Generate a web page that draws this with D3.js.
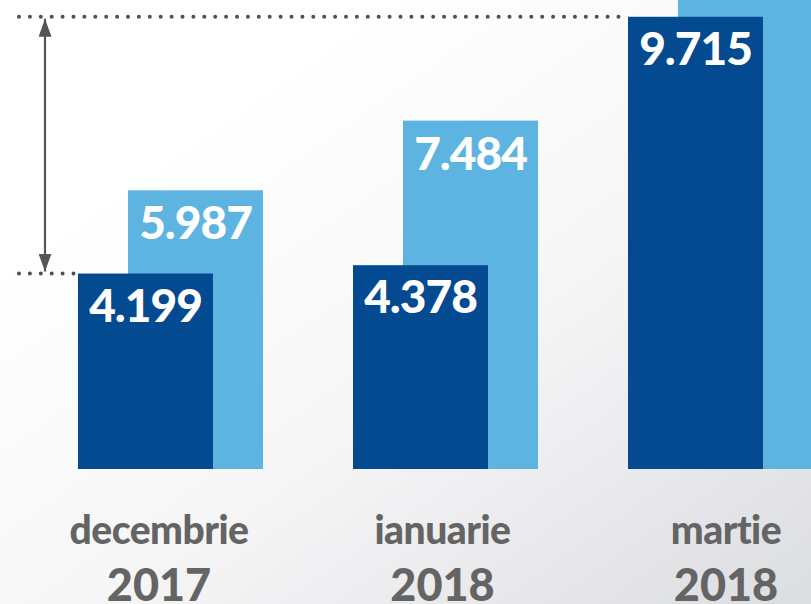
<!DOCTYPE html>
<html>
<head>
<meta charset="utf-8">
<script src="https://cdn.jsdelivr.net/npm/d3@7"></script>
<style>
  html, body { margin: 0; padding: 0; overflow: hidden; }
  #chart { width: 811px; height: 604px; }
</style>
</head>
<body>
<div id="chart"></div>
<script>
// data
var categories = ["dec2017", "ian2018", "mar2018"];
var months = ["decembrie", "ianuarie", "martie"];
var years = ["2017", "2018", "2018"];
var darkValues = [4.199, 4.378, 9.715];
var lightValues = [5.987, 7.484, 11.6]; // last one is cut off at the top
var darkLabels = ["4.199", "4.378", "9.715"];
var lightLabels = ["5.987", "7.484", ""];

var width = 811,
	height = 604;

var svg = d3.select("#chart").append("svg")
	.attr("width", width)
	.attr("height", height);

// background gradient
var defs = svg.append("defs");
var grad = defs.append("linearGradient")
	.attr("id", "bg")
	.attr("x1", "0.25").attr("y1", "0.2")
	.attr("x2", "1").attr("y2", "1");
grad.append("stop").attr("offset", "0").attr("stop-color", "#ffffff");
grad.append("stop").attr("offset", "0.45").attr("stop-color", "#f6f6f7");
grad.append("stop").attr("offset", "1").attr("stop-color", "#dcdde1");

// arrow head
defs.append("marker")
	.attr("id", "head")
	.attr("viewBox", "0 0 18 13")
	.attr("refX", 18).attr("refY", 6.5)
	.attr("markerUnits", "userSpaceOnUse")
	.attr("markerWidth", 18).attr("markerHeight", 13)
	.attr("orient", "auto-start-reverse")
	.append("path")
	.attr("d", "M0,0 L18,6.5 L0,13 Z")
	.attr("fill", "#555");

svg.append("rect")
	.attr("width", width)
	.attr("height", height)
	.attr("fill", "url(#bg)");

// scales
var x = d3.scaleBand()
	.domain(categories)
	.range([78, 813])
	.paddingInner(90 / 275)
	.paddingOuter(0);

var barW = 135,
	offset = x.bandwidth() - barW;

var y = d3.scaleLinear()
	.domain([0, 10])
	.range([469, 3.5]);

var labelX = d3.scalePoint()
	.domain(categories)
	.range([159, 726]);

var fontNum = "Lato, 'Open Sans', sans-serif";

// light bars (behind)
svg.append("g")
	.selectAll("rect")
	.data(lightValues)
	.enter().append("rect")
	.attr("x", function (d, i) { return x(categories[i]) + offset; })
	.attr("y", function (d) { return y(d); })
	.attr("width", barW)
	.attr("height", function (d) { return y(0) - y(d); })
	.attr("fill", "#5eb4e1");

// dark bars (front)
svg.append("g")
	.selectAll("rect")
	.data(darkValues)
	.enter().append("rect")
	.attr("x", function (d, i) { return x(categories[i]); })
	.attr("y", function (d) { return y(d); })
	.attr("width", barW)
	.attr("height", function (d) { return y(0) - y(d); })
	.attr("fill", "#034a91");

// value labels
svg.append("g")
	.selectAll("text")
	.data(lightValues)
	.enter().append("text")
	.attr("x", function (d, i) { return x(categories[i]) + offset + barW / 2; })
	.attr("y", function (d) { return y(d) + 49; })
	.attr("text-anchor", "middle")
	.attr("font-family", fontNum)
	.attr("font-weight", 900)
	.attr("font-size", 46)
	.attr("letter-spacing", -1)
	.attr("fill", "#ffffff")
	.text(function (d, i) { return lightLabels[i]; });

svg.append("g")
	.selectAll("text")
	.data(darkValues)
	.enter().append("text")
	.attr("x", function (d, i) { return x(categories[i]) + barW / 2; })
	.attr("y", function (d) { return y(d) + 48; })
	.attr("text-anchor", "middle")
	.attr("font-family", fontNum)
	.attr("font-weight", 900)
	.attr("font-size", 46)
	.attr("letter-spacing", -1)
	.attr("fill", "#ffffff")
	.text(function (d, i) { return darkLabels[i]; });

// dotted reference lines
var lo = darkValues[0],
	hi = darkValues[2];

svg.append("line")
	.attr("x1", 19).attr("x2", x(categories[2]) + 1)
	.attr("y1", y(hi)).attr("y2", y(hi))
	.attr("stroke", "#4f4f4f")
	.attr("stroke-width", 4)
	.attr("stroke-linecap", "round")
	.attr("stroke-dasharray", "0 10.9");

svg.append("line")
	.attr("x1", 19).attr("x2", x(categories[0]) + 2)
	.attr("y1", y(lo)).attr("y2", y(lo))
	.attr("stroke", "#4f4f4f")
	.attr("stroke-width", 4)
	.attr("stroke-linecap", "round")
	.attr("stroke-dasharray", "0 10.9");

// double arrow between the two lines
svg.append("line")
	.attr("x1", 45).attr("x2", 45)
	.attr("y1", y(hi) + 2).attr("y2", y(lo) - 2)
	.attr("stroke", "#555")
	.attr("stroke-width", 2.2)
	.attr("marker-start", "url(#head)")
	.attr("marker-end", "url(#head)");

// category labels
var lab = svg.append("g")
	.attr("fill", "#646464")
	.attr("font-family", fontNum)
	.attr("text-anchor", "middle");

lab.selectAll(".month")
	.data(months)
	.enter().append("text")
	.attr("class", "month")
	.attr("x", function (d, i) { return labelX(categories[i]); })
	.attr("y", 544)
	.attr("font-size", 39)
	.attr("font-weight", 900)
	.attr("letter-spacing", -0.5)
	.text(function (d) { return d; });

lab.selectAll(".year")
	.data(years)
	.enter().append("text")
	.attr("class", "year")
	.attr("x", function (d, i) { return labelX(categories[i]); })
	.attr("y", 601)
	.attr("font-size", 45)
	.attr("font-weight", 900)
	.text(function (d) { return d; });
</script>
</body>
</html>
